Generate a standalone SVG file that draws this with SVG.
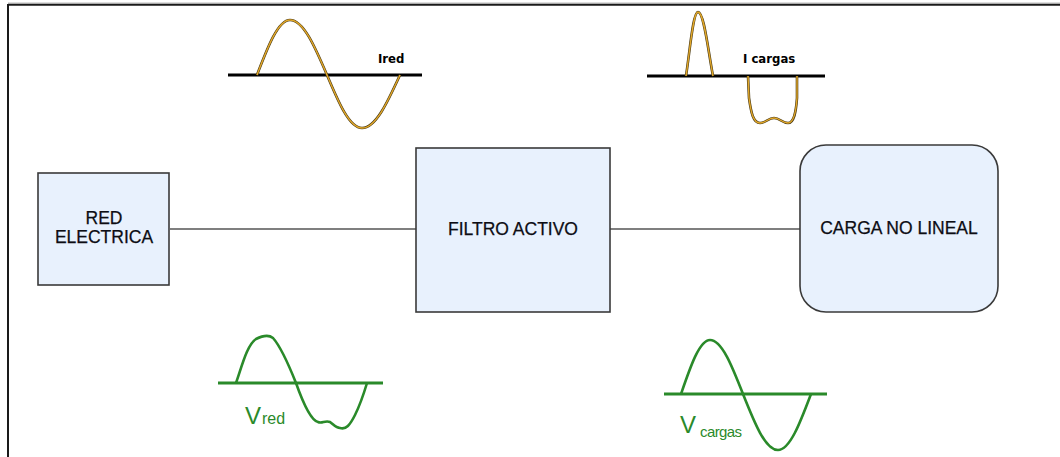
<svg xmlns="http://www.w3.org/2000/svg" width="1060" height="457" viewBox="0 0 1060 457">
<style>
.box{fill:#e8f1fd;stroke:#3a3a3a;stroke-width:1.6}
.lbl{font-family:"Liberation Sans",Arial,sans-serif;font-size:17.5px;fill:#0d0d14;text-anchor:middle;stroke:#0d0d14;stroke-width:0.25}
.conn{stroke:#555;stroke-width:1.4;fill:none}
.axisk{stroke:#000;stroke-width:3;fill:none}
.axisg{stroke:#2a8a2a;stroke-width:3;fill:none}
.wk{stroke:#4a3a14;stroke-width:2.6;fill:none;stroke-linejoin:round}
.wy{stroke:#e2a82a;stroke-width:1.4;fill:none;stroke-linejoin:round}
.wg{stroke:#2a8a2a;stroke-width:2.6;fill:none;stroke-linejoin:round}
.tk{font-family:"Liberation Sans Narrow","DejaVu Sans Condensed",sans-serif;font-weight:bold;font-size:13px;fill:#000}
.tg{font-family:"Liberation Sans",Arial,sans-serif;fill:#2a8a2a}
</style>
<rect width="1060" height="457" fill="#fff"/>
<g id="frame">
<line x1="8" y1="3" x2="1060" y2="3" stroke="#bbb" stroke-width="1"/>
<line x1="8" y1="4.8" x2="1060" y2="4.8" stroke="#1a1a1a" stroke-width="2"/>
<line x1="8" y1="4" x2="8" y2="457" stroke="#1a1a1a" stroke-width="2"/>
</g>
<g id="connectors">
<line class="conn" x1="170" y1="229" x2="416" y2="229"/>
<line class="conn" x1="610" y1="229" x2="800" y2="229"/>
</g>
<g id="red-electrica">
<rect class="box" x="38" y="173" width="131" height="112"/>
<text class="lbl" x="104" y="224">RED</text>
<text class="lbl" x="104" y="243">ELECTRICA</text>
</g>
<g id="filtro-activo">
<rect class="box" x="416" y="148" width="194" height="164"/>
<text class="lbl" x="513" y="235">FILTRO ACTIVO</text>
</g>
<g id="carga-no-lineal">
<rect class="box" x="800" y="145" width="198" height="167" rx="26" ry="26"/>
<text class="lbl" x="899" y="234">CARGA NO LINEAL</text>
</g>
<g id="wave-ired">
<line class="axisk" x1="228" y1="75" x2="422" y2="75"/>
<path class="wk" d="M257,75 C267.8,46.8 278.1,20 290,20 C303.4,20 314.9,46.8 327,75 C338.4,102.1 349.3,128 362,128 C375.8,128 387.6,102.1 400,75"/>
<path class="wy" d="M257,75 C267.8,46.8 278.1,20 290,20 C303.4,20 314.9,46.8 327,75 C338.4,102.1 349.3,128 362,128 C375.8,128 387.6,102.1 400,75"/>
<text class="tk" x="378" y="63">Ired</text>
</g>
<g id="wave-icargas">
<line class="axisk" x1="647" y1="76" x2="825" y2="76"/>
<path class="wk" d="M686,76 C690,50 693,12 698,12 C704,12 708,50 713,76"/>
<path class="wy" d="M686,76 C690,50 693,12 698,12 C704,12 708,50 713,76"/>
<path class="wk" d="M748,76 L749,98 C751,112 753,123 760,123 C766,123 768,118 774,118 C780,118 782,123 788,123 C794,123 796,112 797,98 L797,76"/>
<path class="wy" d="M748,76 L749,98 C751,112 753,123 760,123 C766,123 768,118 774,118 C780,118 782,123 788,123 C794,123 796,112 797,98 L797,76"/>
<text class="tk" x="743" y="63">I cargas</text>
</g>
<g id="wave-vred">
<line class="axisg" x1="218" y1="383" x2="383" y2="383"/>
<path class="wg" d="M236,383 C242,366 247,345 256,339 C262,336 268,334 273,338 C282,348 290,368 296,383 C302,400 310,420 318,422 C322,424 325,420 330,422 C334,425 336,428 340,428 C346,430 350,425 355,415 C360,405 364,393 367,383"/>
<text class="tg" x="245" y="424" font-size="24">V</text>
<text class="tg" x="262" y="424" font-size="16">red</text>
</g>
<g id="wave-vcargas">
<line class="axisg" x1="664" y1="394" x2="827" y2="394"/>
<path class="wg" d="M681,394 C690.5,366.4 699.5,340 710,340 C721.9,340 732.2,366.4 743,394 C754.4,422.7 765.3,450 778,450 C789.9,450 800.2,422.7 811,394"/>
<text class="tg" x="680" y="433" font-size="24">V</text>
<text class="tg" x="700" y="437" font-size="15" letter-spacing="-0.6">cargas</text>
</g>
</svg>
